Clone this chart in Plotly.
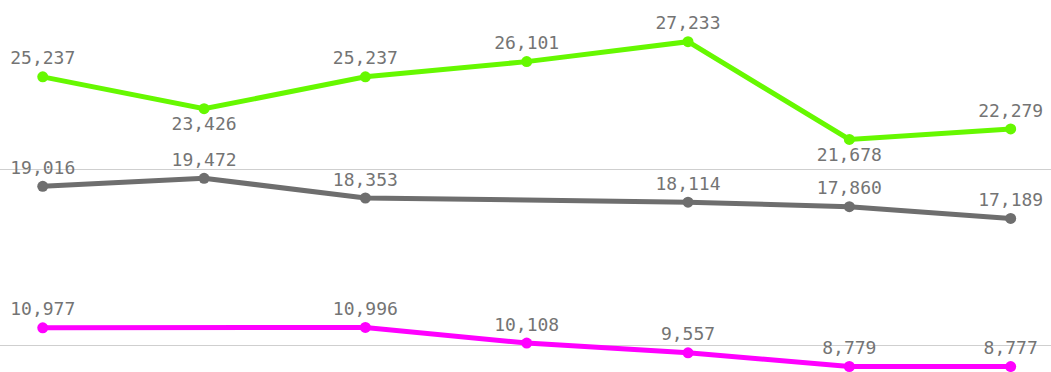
import plotly.graph_objects as go

categories = ["1", "2", "3", "4", "5", "6", "7"]
green_vals = [25237, 23426, 25237, 26101, 27233, 21678, 22279]
gray_vals = [19016, 19472, 18353, None, 18114, 17860, 17189]
magenta_vals = [10977, None, 10996, 10108, 9557, 8779, 8777]

green_pos = ["top center", "bottom center", "top center", "top center", "top center", "bottom center", "top center"]

x = list(range(len(categories)))

def fmt(vals):
    return ["" if v is None else f"{v:,}" for v in vals]

fig = go.Figure()
series = [
    (gray_vals, "#6e6e6e", "top center"),
    (magenta_vals, "#ff00ff", "top center"),
    (green_vals, "#66f800", green_pos),
]
for vals, col, pos in series:
    fig.add_trace(go.Scatter(
        x=x, y=vals, mode="lines+markers+text",
        text=fmt(vals), textposition=pos,
        textfont=dict(family="DejaVu Sans Mono", size=18, color="#747474"),
        line=dict(color=col, width=5),
        marker=dict(color=col, size=11),
        connectgaps=True, cliponaxis=False, showlegend=False,
        hoverinfo="skip",
    ))

fig.update_layout(
    width=1051, height=372,
    margin=dict(l=0, r=0, t=0, b=0),
    paper_bgcolor="white", plot_bgcolor="white",
    xaxis=dict(range=[-0.265, 6.25], showgrid=False, zeroline=False,
               showticklabels=False, tickvals=x, ticktext=categories),
    yaxis=dict(range=[8466, 29602], tickvals=[10000, 20000], showgrid=True,
               gridcolor="#cfcfcf", gridwidth=1, zeroline=False,
               showticklabels=False),
)
fig.write_html("out.html", config={"displayModeBar": False},
               post_script="document.body.style.margin='0';document.body.style.overflow='hidden';")
